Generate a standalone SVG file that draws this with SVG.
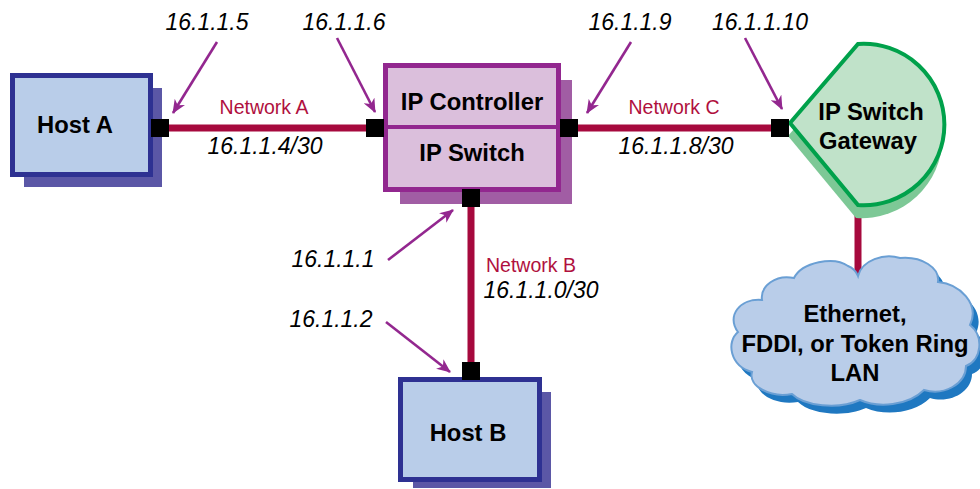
<svg xmlns="http://www.w3.org/2000/svg" width="980" height="489" viewBox="0 0 980 489">
<style>
.bold{font-family:"Liberation Sans",Arial,sans-serif;font-weight:bold;font-size:23.8px;fill:#000;text-anchor:middle}
.ip{font-family:"Liberation Sans",Arial,sans-serif;font-style:italic;font-size:23px;fill:#000;text-anchor:middle}
.net{font-family:"Liberation Sans",Arial,sans-serif;font-size:19.5px;fill:#b0103e;text-anchor:middle}
.host{fill:#b9cde9;stroke:#2e3192;stroke-width:5}
.hostsh{fill:#5b57a6}
.link{stroke:#a6093d;stroke-width:7;fill:none}
.port{fill:#000}
.arr{stroke:#93278f;stroke-width:2.6;fill:none;marker-end:url(#ah)}
</style>
<defs>
<marker id="ah" markerWidth="14" markerHeight="12" viewBox="0 0 14 12" refX="13" refY="6" orient="auto" markerUnits="userSpaceOnUse">
<path d="M0,0 L14,6 L0,12 L4,6 Z" fill="#93278f"/>
</marker>
<path id="cloud" d="M858,276 C862,260 884,253 900,258 C922,256 940,268 938,282 C960,284 980,304 970,325 C984,336 982,360 966,366 C966,384 944,396 924,390 C908,406 878,408 860,400 C838,410 804,406 792,394 C770,398 748,386 752,372 C730,366 726,342 738,332 C726,316 740,298 762,300 C760,286 776,274 794,278 C802,262 834,256 848,266 C853,268 856,271 858,276 Z"/>
<path id="gw" d="M790,123 L858,44 A80.7,80.7 0 1 1 858,205 Z"/>
</defs>
<g id="connectors">
<line class="link" x1="169" y1="128" x2="367" y2="128"/>
<line class="link" x1="578" y1="128" x2="772" y2="128"/>
<line class="link" x1="471" y1="206" x2="471" y2="363"/>
<line class="link" x1="858" y1="204" x2="858" y2="278"/>
</g>
<g id="hostA">
<rect class="hostsh" x="24" y="88" width="138" height="99"/>
<rect class="host" x="12.5" y="75.5" width="138" height="99"/>
<text class="bold" x="75" y="133">Host A</text>
</g>
<g id="hostB">
<rect class="hostsh" x="413" y="392" width="138" height="96"/>
<rect class="host" x="400.5" y="379.5" width="139" height="100"/>
<text class="bold" x="468" y="441">Host B</text>
</g>
<g id="ipController">
<rect x="400" y="80" width="172" height="124" fill="#a15da4"/>
<rect x="385.5" y="65.5" width="173" height="124" fill="#dbbfdc" stroke="#92278f" stroke-width="5"/>
<line x1="385" y1="127" x2="559" y2="127" stroke="#92278f" stroke-width="4"/>
<text class="bold" x="472" y="110">IP Controller</text>
<text class="bold" x="472" y="161">IP Switch</text>
</g>
<g id="gateway">
<use href="#gw" fill="#7dc896" transform="translate(-2,13)"/>
<use href="#gw" fill="#c0e2c9" stroke="#00a14b" stroke-width="4"/>
<text class="bold" x="871" y="120">IP Switch</text>
<text class="bold" x="868" y="149">Gateway</text>
</g>
<g id="lan">
<use href="#cloud" fill="#1f78c1" transform="translate(6,8)"/>
<use href="#cloud" fill="#b9cde9" stroke="#6a9fd4" stroke-width="2"/>
<text class="bold" x="855" y="322">Ethernet,</text>
<text class="bold" x="855" y="352">FDDI, or Token Ring</text>
<text class="bold" x="855" y="381">LAN</text>
</g>
<g id="ports">
<rect class="port" x="151" y="119" width="18" height="18"/>
<rect class="port" x="366" y="119" width="18" height="18"/>
<rect class="port" x="560" y="119" width="18" height="18"/>
<rect class="port" x="771" y="119" width="18" height="18"/>
<rect class="port" x="462" y="189" width="18" height="18"/>
<rect class="port" x="462" y="362" width="18" height="18"/>
</g>
<g id="arrows">
<line class="arr" x1="217" y1="42" x2="173" y2="113"/>
<line class="arr" x1="337" y1="38" x2="375" y2="112"/>
<line class="arr" x1="631" y1="42" x2="587" y2="113"/>
<line class="arr" x1="745" y1="38" x2="782" y2="109"/>
<line class="arr" x1="388" y1="260" x2="453" y2="210"/>
<line class="arr" x1="386" y1="322" x2="450" y2="372"/>
</g>
<g id="labels">
<text class="ip" x="207" y="30">16.1.1.5</text>
<text class="ip" x="344" y="30">16.1.1.6</text>
<text class="ip" x="630" y="30">16.1.1.9</text>
<text class="ip" x="760" y="30">16.1.1.10</text>
<text class="ip" x="333" y="267">16.1.1.1</text>
<text class="ip" x="331" y="327">16.1.1.2</text>
<text class="net" x="264" y="114">Network A</text>
<text class="ip" x="265" y="154">16.1.1.4/30</text>
<text class="net" x="674" y="114">Network C</text>
<text class="ip" x="676" y="154">16.1.1.8/30</text>
<text class="net" x="531" y="272">Network B</text>
<text class="ip" x="541" y="298">16.1.1.0/30</text>
</g>
</svg>
